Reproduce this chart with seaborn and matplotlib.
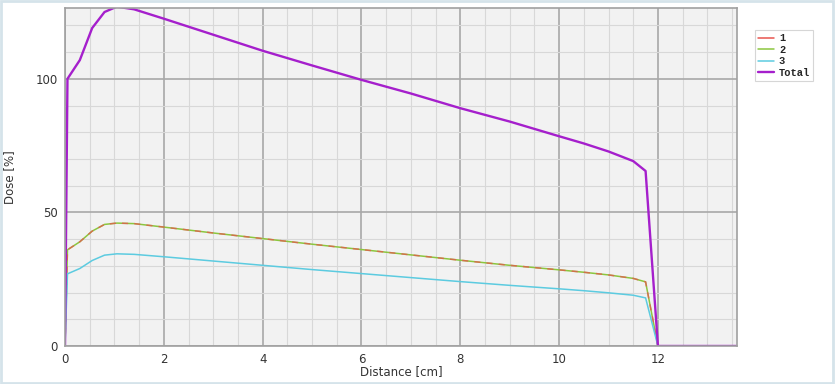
import numpy as np
import pandas as pd
import matplotlib
matplotlib.use("Agg")
import matplotlib.pyplot as plt
import seaborn as sns
from matplotlib.ticker import MultipleLocator

# depth-dose values
distance = [0, 0.05, 0.3, 0.55, 0.8, 1.05, 1.4, 2, 3, 4, 5, 6, 7, 8, 9, 10,
            10.5, 11, 11.5, 11.75, 12, 13.6]
dose_1 = [0, 36, 39, 43, 45.5, 46, 45.8, 44.5, 42.3, 40.2, 38.1, 36.1, 34.1,
          32.1, 30.2, 28.5, 27.6, 26.6, 25.3, 24, 0, 0]
dose_2 = [0, 36, 39, 43, 45.5, 46, 45.8, 44.5, 42.3, 40.2, 38.1, 36.1, 34.1,
          32.1, 30.2, 28.5, 27.6, 26.6, 25.3, 24, 0, 0]
dose_3 = [0, 27, 29, 32, 34, 34.5, 34.3, 33.4, 31.8, 30.2, 28.6, 27.1, 25.6,
          24.1, 22.7, 21.4, 20.7, 19.9, 19, 18, 0, 0]
dose_total = [0, 100, 107, 119, 125, 127, 126, 122.5, 116.5, 110.5, 105, 99.6,
              94.5, 89, 84, 78.5, 75.8, 72.8, 69.2, 65.5, 0, 0]

sns.set_style("white")
plt.rcParams['font.family'] = ['DejaVu Sans']

fig = plt.figure(figsize=(8.35, 3.84), dpi=100)
fig.patch.set_facecolor("white")
ax = fig.add_axes([65 / 835, 38 / 384, 672 / 835, 338 / 384])
ax.set_facecolor("#f2f2f2")

sns.lineplot(x=distance, y=dose_2, ax=ax, color="#8cc63f", lw=1.1, label="2")
sns.lineplot(x=distance, y=dose_1, ax=ax, color="#e8554e", lw=1.1, label="1",
             dashes=False, linestyle=(0, (4, 4)), alpha=0.75)
sns.lineplot(x=distance, y=dose_3, ax=ax, color="#5ccbe0", lw=1.1, label="3")
sns.lineplot(x=distance, y=dose_total, ax=ax, color="#a51fcc", lw=1.7, label="Total")

ax.set_xlim(0, 13.6)
ax.set_ylim(0, 126.5)
ax.xaxis.set_major_locator(MultipleLocator(2))
ax.xaxis.set_minor_locator(MultipleLocator(0.5))
ax.yaxis.set_major_locator(MultipleLocator(50))
ax.yaxis.set_minor_locator(MultipleLocator(10))
ax.grid(which="major", color="#a8a8a8", lw=1.2)
ax.grid(which="minor", color="#d8d8d8", lw=0.8)
ax.set_axisbelow(True)
for s in ax.spines.values():
    s.set_color("#a0a0a0")
    s.set_linewidth(1.2)
ax.tick_params(axis="both", which="major", length=3, color="#888888",
               labelsize=8.5, labelcolor="#333333", pad=2)
ax.tick_params(axis="both", which="minor", length=0)
ax.set_xlabel("Distance [cm]", fontsize=8.5, color="#333333", labelpad=-1)
ax.set_ylabel("Dose [%]", fontsize=8.5, color="#333333", labelpad=14)

handles, labels = ax.get_legend_handles_labels()
order = [labels.index(k) for k in ["1", "2", "3", "Total"]]
leg = ax.legend([handles[i] for i in order], [labels[i] for i in order],
                loc="upper left", bbox_to_anchor=(1.019, 0.95),
                prop={"family": "Liberation Mono", "weight": "bold", "size": 7.5},
                frameon=True, fancybox=False, handlelength=1.5,
                handletextpad=0.5, borderpad=0.3, labelspacing=0.15)
leg.get_frame().set_edgecolor("#cccccc")
leg.get_frame().set_linewidth(0.8)
for ln in leg.get_lines():
    ln.set_linestyle("-")
    ln.set_alpha(1)

fig.add_artist(plt.Rectangle((0.001, 0.002), 0.997, 0.995, transform=fig.transFigure,
                             fill=False, edgecolor="#d5e3ea", lw=2))

fig.savefig("out.png", dpi=100)
